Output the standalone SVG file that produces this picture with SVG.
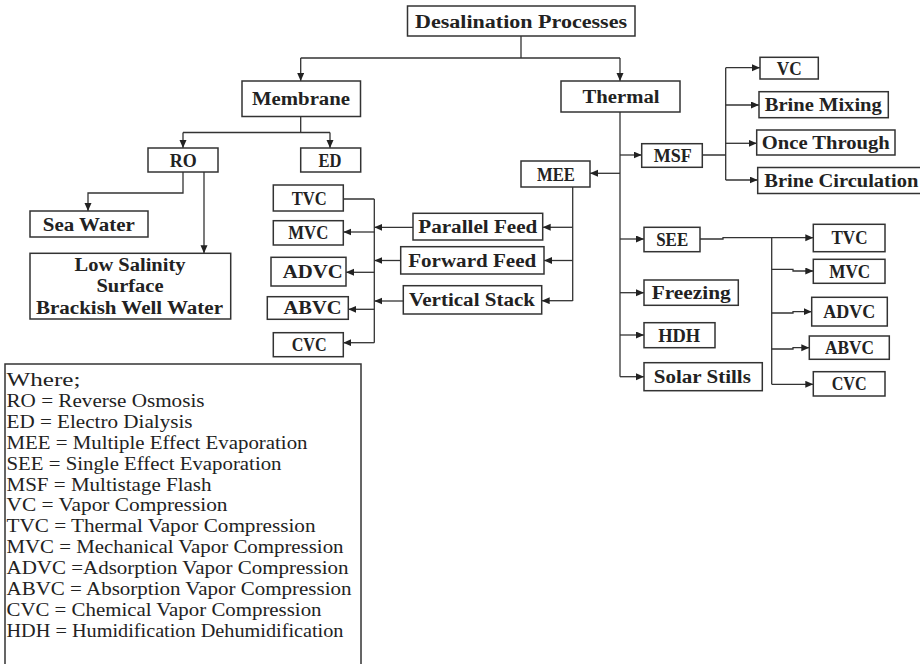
<svg xmlns="http://www.w3.org/2000/svg" width="920" height="664" viewBox="0 0 920 664">
<style>
.b{fill:#fff;stroke:#333;stroke-width:1.5}
.t{font-family:"Liberation Serif",serif;font-weight:bold;font-size:18.5px;fill:#222;text-anchor:middle}
.l{font-family:"Liberation Serif",serif;font-size:18.5px;fill:#222}
.c{fill:none;stroke:#333;stroke-width:1.3}
.a{marker-end:url(#ah)}
</style>
<defs>
<marker id="ah" markerUnits="userSpaceOnUse" markerWidth="9" markerHeight="8" refX="8" refY="3.5" orient="auto">
<path d="M0,0 L8,3.5 L0,7 z" fill="#222"/>
</marker>
</defs>
<rect width="920" height="664" fill="#fff"/>
<g id="connectors">
<path class="c" d="M521,36 V58 M300.7,58 H620"/>
<path class="c a" d="M300.7,58 V81"/>
<path class="c a" d="M620,58 V81"/>
<path class="c" d="M300.7,116.7 V132.5 M183,132.5 H330"/>
<path class="c a" d="M183,132.5 V148"/>
<path class="c a" d="M330,132.5 V148"/>
<path class="c a" d="M183,172 V193 H88 V211"/>
<path class="c a" d="M204,172 V253.3"/>
<path class="c" d="M620,112 V376.7"/>
<path class="c a" d="M620,155 H641.7"/>
<path class="c a" d="M620,173.3 H590"/>
<path class="c a" d="M620,239 H644"/>
<path class="c a" d="M620,292.7 H644"/>
<path class="c a" d="M620,335 H644"/>
<path class="c a" d="M620,376.7 H644"/>
<path class="c" d="M702.3,155 H725.7 M725.7,67.7 V180"/>
<path class="c a" d="M725.7,67.7 H760"/>
<path class="c a" d="M725.7,105 H759"/>
<path class="c a" d="M725.7,143.3 H756.7"/>
<path class="c a" d="M725.7,180 H757.7"/>
<path class="c" d="M572.7,187 V301"/>
<path class="c a" d="M572.7,227.3 H542.7"/>
<path class="c a" d="M572.7,260.5 H544"/>
<path class="c a" d="M572.7,300.7 H541.7"/>
<path class="c a" d="M413,227.3 H374.3"/>
<path class="c a" d="M400.7,260.5 H374.3"/>
<path class="c a" d="M403.3,301 H374.3"/>
<path class="c" d="M374.3,199 V342.7 M343.3,199 H374.3"/>
<path class="c a" d="M374.3,232 H343.3"/>
<path class="c a" d="M374.3,272.3 H346"/>
<path class="c a" d="M374.3,309.3 H348.3"/>
<path class="c a" d="M374.3,342.7 H343.3"/>
<path class="c a" d="M700,239 H723 V237.7 H813.3"/>
<path class="c" d="M771.7,237.7 V384.3"/>
<path class="c a" d="M771.7,269.3 H793 V271 H813.3"/>
<path class="c a" d="M771.7,313 H793 V311.7 H811.7"/>
<path class="c a" d="M771.7,349 H793 V347.7 H809.3"/>
<path class="c a" d="M771.7,384.3 H813.3"/>
</g>
<g id="desal"><rect class="b" x="407.5" y="6" width="227.5" height="30"/><text class="t" x="521" y="27.5" textLength="212" lengthAdjust="spacingAndGlyphs">Desalination Processes</text></g>
<g id="membrane"><rect class="b" x="242" y="81" width="118.5" height="35.5"/><text class="t" x="301" y="105" textLength="98" lengthAdjust="spacingAndGlyphs">Membrane</text></g>
<g id="thermal"><rect class="b" x="561" y="81" width="119" height="31"/><text class="t" x="621" y="102.5" textLength="77" lengthAdjust="spacingAndGlyphs">Thermal</text></g>
<g id="ro"><rect class="b" x="148" y="148" width="70" height="24"/><text class="t" x="183.3" y="166.5" textLength="27" lengthAdjust="spacingAndGlyphs">RO</text></g>
<g id="ed"><rect class="b" x="300.7" y="148" width="60" height="24"/><text class="t" x="330" y="166.5" textLength="23" lengthAdjust="spacingAndGlyphs">ED</text></g>
<g id="seawater"><rect class="b" x="30" y="211" width="118" height="26"/><text class="t" x="88.8" y="230.5" textLength="92" lengthAdjust="spacingAndGlyphs">Sea Water</text></g>
<g id="lowsalinity"><rect class="b" x="30" y="253.3" width="200.7" height="65.7"/>
<text class="t" x="130" y="270.5" textLength="111" lengthAdjust="spacingAndGlyphs">Low Salinity</text>
<text class="t" x="130" y="292" textLength="67" lengthAdjust="spacingAndGlyphs">Surface</text>
<text class="t" x="129.5" y="313.5" textLength="187" lengthAdjust="spacingAndGlyphs">Brackish Well Water</text></g>
<g id="mee"><rect class="b" x="521" y="161" width="69" height="26"/><text class="t" x="556" y="180.5" textLength="38" lengthAdjust="spacingAndGlyphs">MEE</text></g>
<g id="parallel"><rect class="b" x="413" y="213.3" width="129.7" height="26.7"/><text class="t" x="477.8" y="233" textLength="119" lengthAdjust="spacingAndGlyphs">Parallel Feed</text></g>
<g id="forward"><rect class="b" x="400.7" y="246.7" width="143.3" height="27.3"/><text class="t" x="472.2" y="266.5" textLength="128" lengthAdjust="spacingAndGlyphs">Forward Feed</text></g>
<g id="vertical"><rect class="b" x="403.3" y="285.7" width="138.4" height="28.3"/><text class="t" x="472" y="306" textLength="126" lengthAdjust="spacingAndGlyphs">Vertical Stack</text></g>
<g id="tvc-l"><rect class="b" x="273.3" y="185" width="70" height="26"/><text class="t" x="309.2" y="204.5" textLength="35" lengthAdjust="spacingAndGlyphs">TVC</text></g>
<g id="mvc-l"><rect class="b" x="273.3" y="220.7" width="70" height="24.3"/><text class="t" x="308.3" y="239" textLength="40" lengthAdjust="spacingAndGlyphs">MVC</text></g>
<g id="advc-l"><rect class="b" x="271" y="257.3" width="75" height="28.7"/><text class="t" x="312.7" y="278" textLength="60" lengthAdjust="spacingAndGlyphs">ADVC</text></g>
<g id="abvc-l"><rect class="b" x="267.3" y="296.7" width="81" height="22.6"/><text class="t" x="312.5" y="314.3" textLength="58" lengthAdjust="spacingAndGlyphs">ABVC</text></g>
<g id="cvc-l"><rect class="b" x="273.3" y="332.7" width="70" height="24"/><text class="t" x="309.2" y="351" textLength="35" lengthAdjust="spacingAndGlyphs">CVC</text></g>
<g id="msf"><rect class="b" x="641.7" y="143.7" width="60.6" height="23.6"/><text class="t" x="672.8" y="161.8" textLength="38" lengthAdjust="spacingAndGlyphs">MSF</text></g>
<g id="vc"><rect class="b" x="760" y="57.3" width="58.3" height="21.7"/><text class="t" x="789.2" y="74.5" textLength="25" lengthAdjust="spacingAndGlyphs">VC</text></g>
<g id="brinemixing"><rect class="b" x="759" y="91.7" width="129.3" height="26"/><text class="t" x="823.3" y="111" textLength="117" lengthAdjust="spacingAndGlyphs">Brine Mixing</text></g>
<g id="oncethrough"><rect class="b" x="756.7" y="130" width="138.3" height="25"/><text class="t" x="825.8" y="148.8" textLength="128" lengthAdjust="spacingAndGlyphs">Once Through</text></g>
<g id="brinecirc"><rect class="b" x="757.7" y="167.5" width="170" height="26"/><text class="t" x="841.3" y="186.8" textLength="154" lengthAdjust="spacingAndGlyphs">Brine Circulation</text></g>
<g id="see"><rect class="b" x="644" y="227.3" width="56" height="24.4"/><text class="t" x="672.2" y="245.8" textLength="32" lengthAdjust="spacingAndGlyphs">SEE</text></g>
<g id="freezing"><rect class="b" x="644" y="280" width="94.3" height="25.3"/><text class="t" x="691.2" y="299" textLength="79" lengthAdjust="spacingAndGlyphs">Freezing</text></g>
<g id="hdh"><rect class="b" x="644" y="322.7" width="71" height="25"/><text class="t" x="679.2" y="341.5" textLength="42" lengthAdjust="spacingAndGlyphs">HDH</text></g>
<g id="solar"><rect class="b" x="644" y="362.7" width="118.3" height="28"/><text class="t" x="702.3" y="383" textLength="97" lengthAdjust="spacingAndGlyphs">Solar Stills</text></g>
<g id="tvc-r"><rect class="b" x="813.3" y="224.3" width="71.7" height="27.4"/><text class="t" x="849.5" y="244.3" textLength="36" lengthAdjust="spacingAndGlyphs">TVC</text></g>
<g id="mvc-r"><rect class="b" x="813.3" y="259.3" width="71.7" height="24"/><text class="t" x="849.7" y="277.5" textLength="41" lengthAdjust="spacingAndGlyphs">MVC</text></g>
<g id="advc-r"><rect class="b" x="811.7" y="297.3" width="75.6" height="28.7"/><text class="t" x="849.2" y="318" textLength="52" lengthAdjust="spacingAndGlyphs">ADVC</text></g>
<g id="abvc-r"><rect class="b" x="809.3" y="336" width="80" height="23.3"/><text class="t" x="849.5" y="354" textLength="49" lengthAdjust="spacingAndGlyphs">ABVC</text></g>
<g id="cvc-r"><rect class="b" x="813.3" y="371.7" width="71.7" height="24.3"/><text class="t" x="849.2" y="390.1" textLength="35" lengthAdjust="spacingAndGlyphs">CVC</text></g>
<g id="legend"><rect class="b" x="5" y="364" width="356" height="310"/>
<text class="l" x="6.5" y="386" textLength="74" lengthAdjust="spacingAndGlyphs">Where;</text>
<text class="l" x="6.5" y="406.9" textLength="198" lengthAdjust="spacingAndGlyphs">RO = Reverse Osmosis</text>
<text class="l" x="6.5" y="427.8" textLength="186" lengthAdjust="spacingAndGlyphs">ED = Electro Dialysis</text>
<text class="l" x="6.5" y="448.7" textLength="301" lengthAdjust="spacingAndGlyphs">MEE = Multiple Effect Evaporation</text>
<text class="l" x="6.5" y="469.6" textLength="275" lengthAdjust="spacingAndGlyphs">SEE = Single Effect Evaporation</text>
<text class="l" x="6.5" y="490.5" textLength="205" lengthAdjust="spacingAndGlyphs">MSF = Multistage Flash</text>
<text class="l" x="6.5" y="511.4" textLength="221" lengthAdjust="spacingAndGlyphs">VC = Vapor Compression</text>
<text class="l" x="6.5" y="532.3" textLength="309" lengthAdjust="spacingAndGlyphs">TVC = Thermal Vapor Compression</text>
<text class="l" x="6.5" y="553.2" textLength="337" lengthAdjust="spacingAndGlyphs">MVC = Mechanical Vapor Compression</text>
<text class="l" x="6.5" y="574.1" textLength="342" lengthAdjust="spacingAndGlyphs">ADVC =Adsorption Vapor Compression</text>
<text class="l" x="6.5" y="595" textLength="345" lengthAdjust="spacingAndGlyphs">ABVC = Absorption Vapor Compression</text>
<text class="l" x="6.5" y="615.9" textLength="315" lengthAdjust="spacingAndGlyphs">CVC = Chemical Vapor Compression</text>
<text class="l" x="6.5" y="636.8" textLength="337" lengthAdjust="spacingAndGlyphs">HDH = Humidification Dehumidification</text>
</g>
</svg>
